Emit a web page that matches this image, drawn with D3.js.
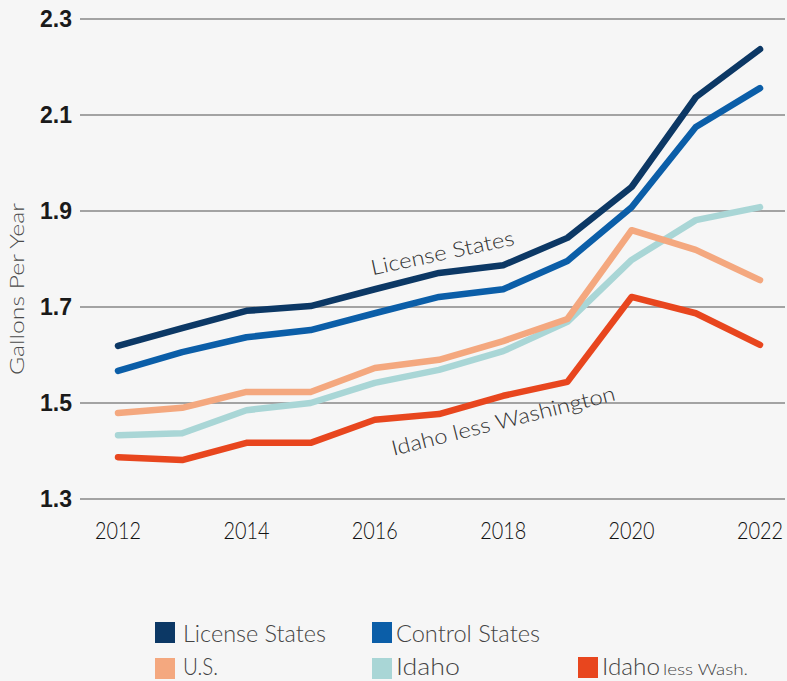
<!DOCTYPE html>
<html><head><meta charset="utf-8">
<script src="https://cdn.jsdelivr.net/npm/d3@7"></script>
<style>
html,body{margin:0;padding:0;background:#f6f6f6;}
svg{display:block;}
</style></head>
<body>
<svg id="c" width="787" height="681"></svg>
<script>
const years = [2012,2013,2014,2015,2016,2017,2018,2019,2020,2021,2022];
const xTicks = [2012,2014,2016,2018,2020,2022];
const yTicks = [1.3,1.5,1.7,1.9,2.1,2.3];
const licenseStates = [1.619,1.656,1.692,1.702,1.737,1.771,1.787,1.844,1.950,2.137,2.237];
const controlStates = [1.567,1.606,1.637,1.652,1.687,1.721,1.737,1.796,1.908,2.075,2.156];
const us = [1.479,1.490,1.523,1.523,1.573,1.590,1.629,1.675,1.860,1.819,1.756];
const idaho = [1.433,1.437,1.485,1.500,1.542,1.569,1.608,1.669,1.798,1.881,1.908];
const idahoLessWash = [1.387,1.381,1.417,1.417,1.465,1.477,1.515,1.544,1.721,1.687,1.621];

const seriesList = [
  {name:"Idaho less Wash.", values:idahoLessWash, color:"#e8461e"},
  {name:"Idaho", values:idaho, color:"#a9d6d6"},
  {name:"U.S.", values:us, color:"#f4a87f"},
  {name:"Control States", values:controlStates, color:"#0b5ea8"},
  {name:"License States", values:licenseStates, color:"#0c3865"}
];

const svg = d3.select("#c");
const x = d3.scaleLinear().domain([2012,2022]).range([118,760]);
const y = d3.scaleLinear().domain([1.3,2.3]).range([499,19]);
const lightFont = "Lato, 'Noto Sans', sans-serif";

// gridlines
svg.append("g").selectAll("line").data(yTicks).join("line")
  .attr("x1",80).attr("x2",785)
  .attr("y1",d=>y(d)).attr("y2",d=>y(d))
  .attr("stroke","#a3a3a3").attr("stroke-width",2);

// y tick labels
svg.append("g").selectAll("text").data(yTicks).join("text")
  .attr("x",72).attr("y",d=>y(d)).attr("dy","0.36em")
  .attr("text-anchor","end")
  .attr("font-family","Liberation Sans, Arial, sans-serif")
  .attr("font-weight","bold").attr("font-size",23).attr("fill","#1a1a1a")
  .text(d=>d.toFixed(1));

// x tick labels
svg.append("g").selectAll("text").data(xTicks).join("text")
  .attr("x",d=>x(d)).attr("y",539)
  .attr("text-anchor","middle")
  .attr("font-family","Lato, 'Liberation Sans', sans-serif")
  .attr("font-weight",300)
  .attr("font-size",23.5).attr("fill","#111")
  .attr("textLength",46).attr("lengthAdjust","spacingAndGlyphs")
  .text(d=>d);

// y axis title
svg.append("text")
  .attr("transform","translate(24,289) rotate(-90)")
  .attr("text-anchor","middle")
  .attr("font-family",lightFont).attr("font-weight",300)
  .attr("font-size",20).attr("fill","#4a4a4a")
  .attr("textLength",172).attr("lengthAdjust","spacingAndGlyphs")
  .text("Gallons Per Year");

// lines
const line = d3.line().x((d,i)=>x(years[i])).y(d=>y(d));
svg.append("g").selectAll("path").data(seriesList).join("path")
  .attr("d",d=>line(d.values))
  .attr("fill","none").attr("stroke",d=>d.color)
  .attr("stroke-width",6.5).attr("stroke-linejoin","round").attr("stroke-linecap","round");

// annotations
svg.append("text")
  .attr("transform","translate(444,260) rotate(-12)")
  .attr("text-anchor","middle")
  .attr("font-family",lightFont).attr("font-weight",300).attr("font-size",21).attr("fill","#333")
  .attr("textLength",146).attr("lengthAdjust","spacingAndGlyphs")
  .text("License States");
svg.append("text")
  .attr("transform","translate(505,428) rotate(-14)")
  .attr("text-anchor","middle")
  .attr("font-family",lightFont).attr("font-weight",300).attr("font-size",21).attr("fill","#333")
  .attr("textLength",230).attr("lengthAdjust","spacingAndGlyphs")
  .text("Idaho less Washington");

// legend
const legendItems = [
  {name:"License States", color:"#0c3865", lx:155, ly:622, ty:20, tx:28, w:143},
  {name:"Control States", color:"#0b5ea8", lx:372, ly:622, ty:20, tx:24, w:144},
  {name:"U.S.", color:"#f4a87f", lx:155, ly:658, ty:17, tx:28, w:35},
  {name:"Idaho", color:"#a9d6d6", lx:372, ly:658, ty:17, tx:24, w:64},
  {name:"Idaho", small:"less Wash.", color:"#e8461e", lx:578, ly:657, ty:18, tx:24, w:58, sw:85}
];
const lg = svg.append("g").selectAll("g").data(legendItems).join("g")
  .attr("transform",d=>`translate(${d.lx},${d.ly})`);
lg.append("rect").attr("width",20).attr("height",21).attr("fill",d=>d.color);
lg.append("text").attr("x",d=>d.tx).attr("y",d=>d.ty)
  .attr("font-family",lightFont).attr("font-weight",300).attr("font-size",23).attr("fill","#444")
  .attr("textLength",d=>d.w).attr("lengthAdjust","spacingAndGlyphs")
  .text(d=>d.name);
lg.filter(d=>d.small).append("text").attr("x",85).attr("y",18)
  .attr("font-family",lightFont).attr("font-weight",300).attr("font-size",16).attr("fill","#444")
  .attr("textLength",d=>d.sw).attr("lengthAdjust","spacingAndGlyphs")
  .text(d=>d.small);
</script>
</body></html>
